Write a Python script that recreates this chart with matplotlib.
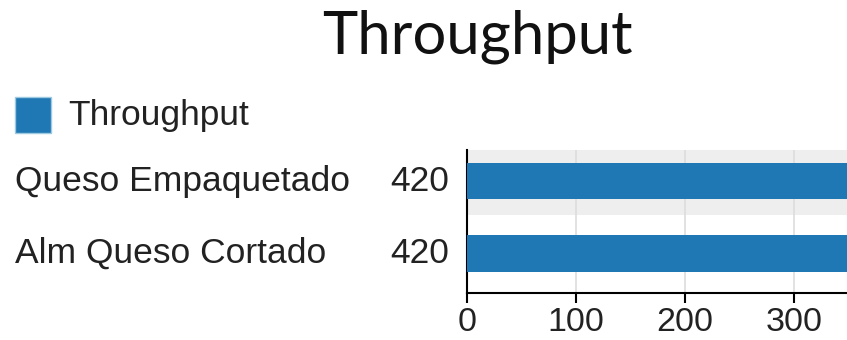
import matplotlib
matplotlib.use("Agg")
import matplotlib.pyplot as plt
import matplotlib.transforms as mtransforms
from matplotlib.patches import Rectangle

categories = ["Queso Empaquetado", "Alm Queso Cortado"]
throughput = [420, 420]
x_ticks = [0, 100, 200, 300]
title = "Throughput"
series_name = "Throughput"

BAR_COLOR = "#1f77b4"
W, H = 847, 340
fig = plt.figure(figsize=(W / 100, H / 100), dpi=100)
plt.rcParams["font.family"] = ["Liberation Sans", "DejaVu Sans"]

ax = fig.add_axes([467 / W, 1 - 293 / H, 1 - 467 / W, (293 - 150) / H])
ypos = list(range(len(categories)))
ax.barh(ypos, throughput, height=0.5, color=BAR_COLOR, zorder=3)
ax.axhspan(-0.43, 0.47, color="#eeeeee", zorder=0, lw=0)
ax.set_xlim(0, 348.6)
ax.set_ylim(1.545, -0.43)
ax.set_xticks(x_ticks)
ax.set_xticklabels([str(t) for t in x_ticks], fontsize=24.5, color="#222222")
ax.set_yticks([])
ax.grid(axis="x", color="#dddddd", lw=1.2, zorder=1)
for s in ["top", "right"]:
    ax.spines[s].set_visible(False)
for s in ["left", "bottom"]:
    ax.spines[s].set_linewidth(1.5)
    ax.spines[s].set_color("black")
ax.tick_params(axis="x", length=7, width=1.5, pad=3)

# category names and values left of the axis
trans_name = mtransforms.blended_transform_factory(fig.transFigure, ax.transData)
for y, cat, v in zip(ypos, categories, throughput):
    fig.text(15 / W, y, cat, transform=trans_name, ha="left", va="center",
             fontsize=25.5, color="#222222")
    fig.text(449 / W, y, str(v), transform=trans_name, ha="right", va="center",
             fontsize=25.5, color="#222222")

# title
fig.text(477.5 / W, 1 - 53 / H, title, ha="center", va="baseline", fontsize=43,
         family=["Lato", "DejaVu Sans"], color="#111111")

# legend
fig.patches.append(Rectangle((15 / W, 1 - 133 / H), 36 / W, 36 / H,
                             transform=fig.transFigure, facecolor=BAR_COLOR,
                             edgecolor="#9ecae1", lw=1))
fig.text(68 / W, 1 - 125 / H, series_name, ha="left", va="baseline", fontsize=25.5,
         color="#222222")

fig.savefig("out.png", dpi=100)
